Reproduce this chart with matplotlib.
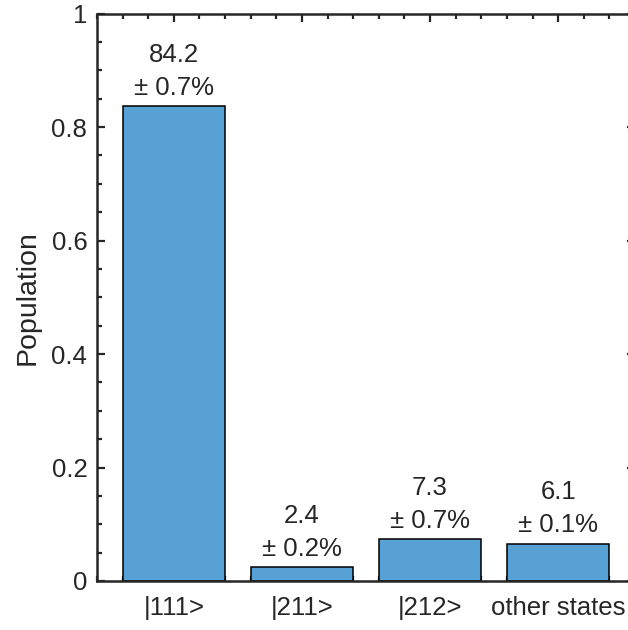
import matplotlib
matplotlib.use("Agg")
import matplotlib.pyplot as plt
from matplotlib.ticker import MultipleLocator

plt.rcParams['font.family'] = ['Liberation Sans', 'DejaVu Sans']

states = ['|111>', '|211>', '|212>', 'other states']
population = [0.837, 0.024, 0.074, 0.066]
percent = ['84.2', '2.4', '7.3', '6.1']
errors = ['0.7', '0.2', '0.7', '0.1']

bar_color = '#58a1d4'
axis_color = '#262626'

fig = plt.figure(figsize=(6.28, 6.30), dpi=100)
# right spine sits just past the image edge, like the cropped original
ax = fig.add_axes([97 / 628, 1 - 581 / 630, 538 / 628, 567.5 / 630])

pos = list(range(1, len(states) + 1))
ax.bar(pos, population, width=0.8, color=bar_color, edgecolor='black', linewidth=1.1, zorder=2)

for x, h, p, e in zip(pos, population, percent, errors):
    ax.annotate(p + '\n± ' + e + '%', xy=(x, h), xytext=(0, 4.5), textcoords='offset points',
                ha='center', va='bottom', fontsize=18.5, color=axis_color, linespacing=1.47)

ax.set_xlim(0.4, 4.6)
ax.set_ylim(0, 1)
ax.set_xticks(pos)
ax.set_xticklabels(states)
ax.xaxis.set_minor_locator(MultipleLocator(0.2))
ax.set_yticks([0, 0.2, 0.4, 0.6, 0.8, 1])
ax.set_yticklabels(['0', '0.2', '0.4', '0.6', '0.8', '1'])
ax.yaxis.set_minor_locator(MultipleLocator(0.05))

ax.tick_params(which='both', direction='in', top=True, right=True, color=axis_color,
               labelcolor=axis_color, labelsize=18.5, width=1.6)
ax.tick_params(which='major', length=6)
ax.tick_params(which='minor', length=3.5)
ax.tick_params(axis='y', pad=7)
ax.tick_params(axis='x', pad=11)

for s in ax.spines.values():
    s.set_color(axis_color)
    s.set_linewidth(1.8)

ax.set_ylabel('Population', fontsize=20.5, color=axis_color, labelpad=8)

fig.savefig('out.png', dpi=100)
